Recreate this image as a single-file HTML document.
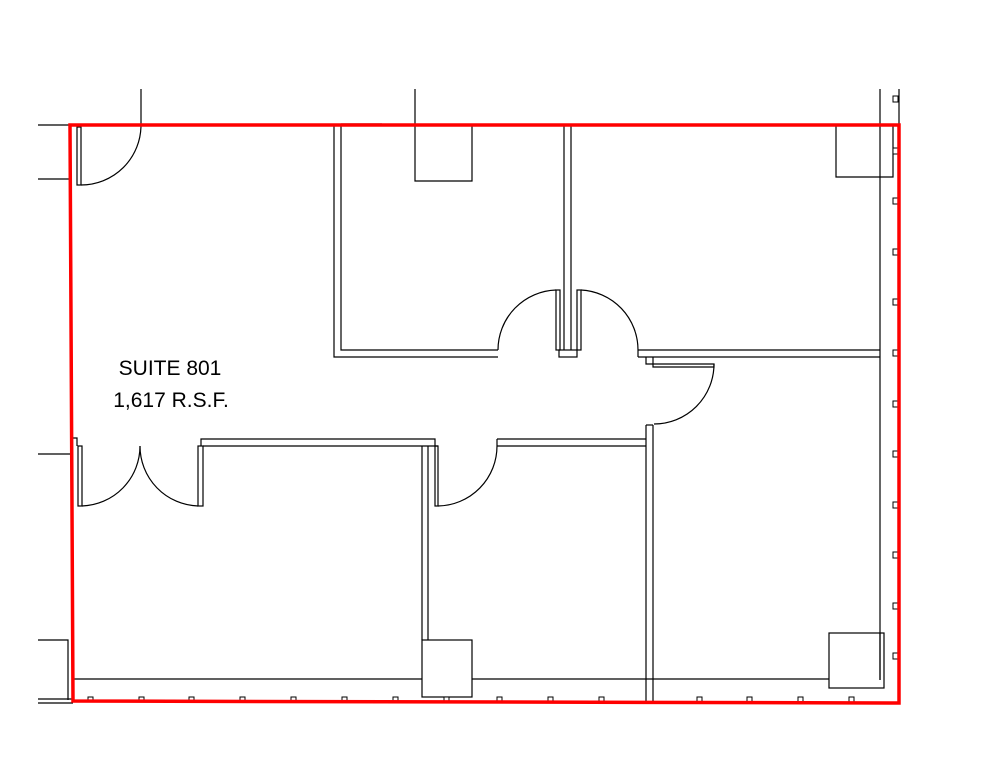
<!DOCTYPE html>
<html><head><style>body{margin:0;background:#fff}svg{display:block}</style></head><body>
<svg width="993" height="768" viewBox="0 0 993 768" xmlns="http://www.w3.org/2000/svg">
<g fill="none" stroke="#000" stroke-width="1.2">
<line x1="38" y1="125" x2="70" y2="125"/><line x1="38" y1="179" x2="70" y2="179"/>
<line x1="141" y1="89" x2="141" y2="125"/>
<rect x="77" y="127" width="4" height="58"/>
<path d="M141 125 A60 60 0 0 1 81 185"/>
<polyline points="334,125 334,357 498,357"/>
<polyline points="341,125 341,350 498,350"/>
<line x1="341" y1="124" x2="382" y2="124"/>
<line x1="415" y1="89" x2="415" y2="125"/>
<polyline points="415,125 415,181 472,181 472,125"/>
<line x1="564" y1="125" x2="564" y2="350"/><line x1="571" y1="125" x2="571" y2="350"/>
<rect x="556" y="290" width="4" height="60"/>
<rect x="577" y="290" width="4" height="60"/>
<rect x="559" y="350" width="18" height="7"/>
<path d="M498 350 A60 60 0 0 1 556 290"/>
<path d="M581 290 A60 60 0 0 1 638 350"/>
<polyline points="638,350 880,350"/><polyline points="638,357 880,357"/>
<line x1="638" y1="350" x2="638" y2="357"/>
<polyline points="646,357 646,364 653,364"/>
<polyline points="653,357 653,367 714,367 714,364 653,364"/>
<path d="M714 364 A60 60 0 0 1 654 424"/>
<line x1="646" y1="425" x2="646" y2="703"/><line x1="653" y1="425" x2="653" y2="703"/>
<line x1="646" y1="425" x2="653" y2="425"/>
<line x1="497" y1="439" x2="646" y2="439"/><line x1="497" y1="446" x2="646" y2="446"/>
<line x1="497" y1="439" x2="497" y2="446"/>
<line x1="880" y1="89" x2="880" y2="680"/>
<line x1="899" y1="89" x2="899" y2="125"/>
<polyline points="836,125 836,177 893,177 893,125"/>
<line x1="38" y1="454" x2="72" y2="454"/>
<polyline points="71,438 77,438 77,446"/>
<rect x="78" y="446" width="4" height="60"/>
<path d="M82 506 A60 60 0 0 0 140 446"/>
<path d="M140 446 A60 60 0 0 0 198 506"/>
<rect x="198" y="446" width="5" height="60"/>
<polyline points="201,446 201,439 435,439 435,446"/>
<line x1="203" y1="446" x2="438" y2="446"/>
<line x1="422" y1="446" x2="422" y2="640"/><line x1="428" y1="446" x2="428" y2="640"/>
<rect x="435" y="446" width="3" height="60"/>
<path d="M438 506 A60 60 0 0 0 497 446"/>
<rect x="422" y="640" width="50" height="57"/>
<line x1="73" y1="679" x2="422" y2="679"/><line x1="472" y1="679" x2="829" y2="679"/>
<polyline points="38,640 68,640 68,700"/>
<line x1="38" y1="699" x2="73" y2="699"/><line x1="38" y1="703" x2="73" y2="703"/>
<rect x="829" y="633" width="55" height="55"/>
<line x1="880" y1="633" x2="880" y2="680"/>
</g>
<g fill="#fff" stroke="#000" stroke-width="1">
<rect x="893" y="96" width="5" height="6"/><rect x="893" y="148" width="5" height="6"/>
<rect x="893" y="198" width="5" height="6"/><rect x="893" y="249" width="5" height="6"/>
<rect x="893" y="299" width="5" height="6"/><rect x="893" y="350" width="5" height="6"/>
<rect x="893" y="401" width="5" height="6"/><rect x="893" y="451" width="5" height="6"/>
<rect x="893" y="502" width="5" height="6"/><rect x="893" y="552" width="5" height="6"/>
<rect x="893" y="603" width="5" height="6"/><rect x="893" y="653" width="5" height="6"/>
<rect x="88" y="697" width="5" height="5"/><rect x="139" y="697" width="5" height="5"/>
<rect x="189" y="697" width="5" height="5"/><rect x="240" y="697" width="5" height="5"/>
<rect x="291" y="697" width="5" height="5"/><rect x="342" y="697" width="5" height="5"/>
<rect x="393" y="697" width="5" height="5"/><rect x="444" y="697" width="5" height="5"/>
<rect x="497" y="697" width="5" height="5"/><rect x="548" y="697" width="5" height="5"/>
<rect x="599" y="697" width="5" height="5"/><rect x="697" y="697" width="5" height="5"/>
<rect x="747" y="697" width="5" height="5"/><rect x="798" y="697" width="5" height="5"/>
<rect x="849" y="697" width="5" height="5"/>
</g>
<polygon points="70,125 899,125 899,703 73,701" fill="none" stroke="#f00" stroke-width="3.5"/>
<g font-family="Liberation Sans, sans-serif" font-size="21" text-anchor="middle" fill="#000">
<text x="170" y="375">SUITE 801</text>
<text x="171" y="407">1,617 R.S.F.</text>
</g>
</svg>
</body></html>
